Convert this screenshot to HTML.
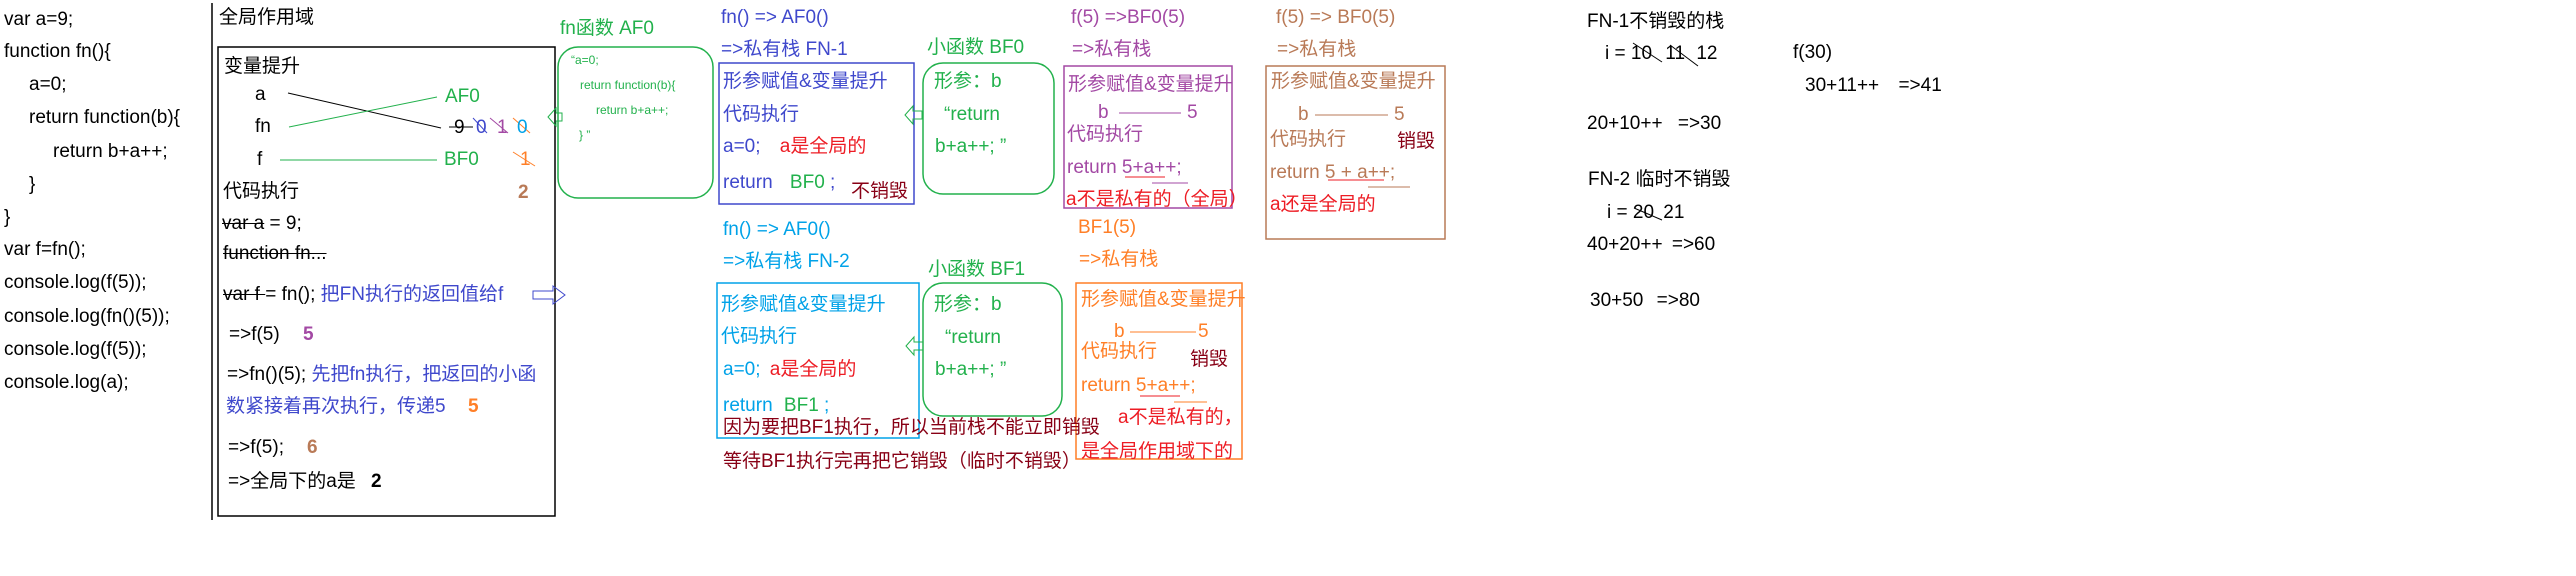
<!DOCTYPE html>
<html><head><meta charset="utf-8"><style>
body{margin:0;width:2576px;height:576px;background:#fff;position:relative;overflow:hidden;font-family:"Liberation Sans","Noto Sans CJK SC",sans-serif;font-size:19px;color:#000}
.t{position:absolute;line-height:24px;white-space:nowrap}
.s{text-decoration:line-through}
.b{font-weight:bold}
.sm{font-size:12px;line-height:16px}
.bl{color:#3f48cc}.gr{color:#22b14c}.pu{color:#a349a4}.or{color:#ff7f27}.br{color:#b97a57}.rd{color:#ed1c24}.dr{color:#880015}.cy{color:#00a2e8}
svg{position:absolute;left:0;top:0}
</style></head><body>
<svg width="2576" height="576" fill="none">
<line x1="212" y1="3" x2="212" y2="520" stroke="#000" stroke-width="1.5"/>
<rect x="218" y="47" width="337" height="469" stroke="#000" stroke-width="1.5"/>
<line x1="288" y1="93" x2="441" y2="128" stroke="#000"/>
<line x1="289" y1="127" x2="437" y2="97" stroke="#22b14c"/>
<line x1="280" y1="160" x2="437" y2="160" stroke="#22b14c"/>
<line x1="449" y1="127" x2="473" y2="127" stroke="#000"/>
<line x1="473" y1="118" x2="487" y2="133" stroke="#3f48cc"/>
<line x1="490" y1="118" x2="508" y2="133" stroke="#a349a4"/>
<line x1="513" y1="118" x2="530" y2="133" stroke="#ff7f27"/>
<line x1="513" y1="152" x2="535" y2="166" stroke="#ff7f27"/>
<rect x="558" y="47" width="155" height="151" rx="20" stroke="#22b14c" stroke-width="1.5"/>
<polygon points="548,117 556,108 556,113 562,113 562,121 556,121 556,126" stroke="#22b14c"/>
<polygon points="533,291 553,291 553,286 565,295 553,304 553,299 533,299" stroke="#3f48cc"/>
<rect x="719" y="63" width="195" height="141" stroke="#3f48cc" stroke-width="1.5"/>
<rect x="923" y="63" width="131" height="131" rx="20" stroke="#22b14c" stroke-width="1.5"/>
<polygon points="905,115 913,106 913,111 922,111 922,119 913,119 913,124" stroke="#22b14c"/>
<rect x="1064" y="66" width="168" height="142" stroke="#a349a4" stroke-width="1.5"/>
<line x1="1119" y1="113" x2="1181" y2="113" stroke="#a349a4"/>
<line x1="1125" y1="177" x2="1165" y2="177" stroke="#ed1c24"/>
<line x1="1152" y1="183" x2="1188" y2="183" stroke="#a349a4"/>
<rect x="717" y="283" width="202" height="155" stroke="#00a2e8" stroke-width="1.5"/>
<rect x="923" y="283" width="139" height="133" rx="20" stroke="#22b14c" stroke-width="1.5"/>
<polygon points="906,346 914,337 914,342 923,342 923,350 914,350 914,355" stroke="#22b14c"/>
<rect x="1076" y="283" width="166" height="176" stroke="#ff7f27" stroke-width="1.5"/>
<line x1="1130" y1="332" x2="1196" y2="332" stroke="#ff7f27"/>
<line x1="1140" y1="396" x2="1180" y2="396" stroke="#ed1c24"/>
<line x1="1174" y1="402" x2="1207" y2="402" stroke="#ff7f27"/>
<rect x="1266" y="66" width="179" height="173" stroke="#b97a57" stroke-width="1.5"/>
<line x1="1315" y1="115" x2="1388" y2="115" stroke="#b97a57"/>
<line x1="1328" y1="180" x2="1384" y2="180" stroke="#ed1c24"/>
<line x1="1368" y1="187" x2="1410" y2="187" stroke="#b97a57"/>
<line x1="1633" y1="43" x2="1662" y2="62" stroke="#000"/>
<line x1="1670" y1="45" x2="1698" y2="66" stroke="#000"/>
<line x1="1634" y1="208" x2="1662" y2="220" stroke="#000"/>
</svg>

<div class="t" style="left:4px;top:8px">var a=9;</div>
<div class="t" style="left:4px;top:40px">function fn(){</div>
<div class="t" style="left:29px;top:73px">a=0;</div>
<div class="t" style="left:29px;top:106px">return function(b){</div>
<div class="t" style="left:53px;top:140px">return b+a++;</div>
<div class="t" style="left:29px;top:173px">}</div>
<div class="t" style="left:4px;top:206px">}</div>
<div class="t" style="left:4px;top:238px">var f=fn();</div>
<div class="t" style="left:4px;top:271px">console.log(f(5));</div>
<div class="t" style="left:4px;top:305px">console.log(fn()(5));</div>
<div class="t" style="left:4px;top:338px">console.log(f(5));</div>
<div class="t" style="left:4px;top:371px">console.log(a);</div>

<div class="t" style="left:219px;top:6px">全局作用域</div>
<div class="t" style="left:224px;top:55px">变量提升</div>
<div class="t" style="left:255px;top:83px">a</div>
<div class="t" style="left:255px;top:115px">fn</div>
<div class="t" style="left:257px;top:148px">f</div>
<div class="t gr" style="left:445px;top:85px">AF0</div>
<div class="t gr" style="left:444px;top:148px">BF0</div>
<div class="t" style="left:454px;top:116px">9</div>
<div class="t bl" style="left:476px;top:116px">0</div>
<div class="t pu" style="left:497px;top:116px">1</div>
<div class="t cy" style="left:517px;top:116px">0</div>
<div class="t or" style="left:520px;top:148px">1</div>
<div class="t b br" style="left:518px;top:181px">2</div>
<div class="t" style="left:223px;top:180px">代码执行</div>
<div class="t" style="left:222px;top:212px"><span class="s">var a</span> = 9;</div>
<div class="t s" style="left:223px;top:242px">function fn...</div>
<div class="t" style="left:223px;top:283px"><span class="s">var f </span>= fn(); <span class="bl">把FN执行的返回值给f</span></div>
<div class="t" style="left:229px;top:323px">=&gt;f(5) <span class="b pu" style="margin-left:18px">5</span></div>
<div class="t" style="left:227px;top:363px">=&gt;fn()(5); <span class="bl">先把fn执行，把返回的小函</span></div>
<div class="t bl" style="left:226px;top:395px">数紧接着再次执行，传递5</div>
<div class="t b or" style="left:468px;top:395px">5</div>
<div class="t" style="left:228px;top:436px">=&gt;f(5);</div>
<div class="t b br" style="left:307px;top:436px">6</div>
<div class="t" style="left:228px;top:470px">=&gt;全局下的a是 <span class="b" style="margin-left:10px">2</span></div>

<div class="t gr" style="left:560px;top:17px">fn函数 AF0</div>
<div class="t gr sm" style="left:571px;top:52px">“a=0;</div>
<div class="t gr sm" style="left:580px;top:77px">return function(b){</div>
<div class="t gr sm" style="left:596px;top:102px">return b+a++;</div>
<div class="t gr sm" style="left:579px;top:127px">} ”</div>

<div class="t bl" style="left:721px;top:6px">fn() =&gt; AF0()</div>
<div class="t bl" style="left:721px;top:38px">=&gt;私有栈  FN-1</div>
<div class="t bl" style="left:723px;top:70px">形参赋值&amp;变量提升</div>
<div class="t bl" style="left:723px;top:103px">代码执行</div>
<div class="t bl" style="left:723px;top:135px">a=0; <span class="rd" style="margin-left:14px">a是全局的</span></div>
<div class="t bl" style="left:723px;top:171px">return <span class="gr" style="margin-left:12px">BF0</span> ;</div>
<div class="t dr" style="left:851px;top:180px">不销毁</div>
<div class="t gr" style="left:927px;top:36px">小函数 BF0</div>
<div class="t gr" style="left:934px;top:70px">形参：b</div>
<div class="t gr" style="left:944px;top:103px">“return</div>
<div class="t gr" style="left:935px;top:135px">b+a++; ”</div>

<div class="t pu" style="left:1071px;top:6px">f(5) =&gt;BF0(5)</div>
<div class="t pu" style="left:1072px;top:38px">=&gt;私有栈</div>
<div class="t pu" style="left:1068px;top:73px">形参赋值&amp;变量提升</div>
<div class="t pu" style="left:1098px;top:101px">b</div>
<div class="t pu" style="left:1187px;top:101px">5</div>
<div class="t pu" style="left:1067px;top:123px">代码执行</div>
<div class="t pu" style="left:1067px;top:156px">return 5+a++;</div>
<div class="t rd" style="left:1066px;top:188px">a不是私有的（全局）</div>

<div class="t or" style="left:1078px;top:216px">BF1(5)</div>
<div class="t or" style="left:1079px;top:248px">=&gt;私有栈</div>
<div class="t or" style="left:1081px;top:288px">形参赋值&amp;变量提升</div>
<div class="t or" style="left:1114px;top:320px">b</div>
<div class="t or" style="left:1198px;top:320px">5</div>
<div class="t or" style="left:1081px;top:340px">代码执行</div>
<div class="t dr" style="left:1190px;top:348px">销毁</div>
<div class="t or" style="left:1081px;top:374px">return 5+a++;</div>
<div class="t rd" style="left:1118px;top:406px">a不是私有的，</div>
<div class="t rd" style="left:1081px;top:440px">是全局作用域下的</div>

<div class="t cy" style="left:723px;top:218px">fn() =&gt; AF0()</div>
<div class="t cy" style="left:723px;top:250px">=&gt;私有栈 FN-2</div>
<div class="t cy" style="left:721px;top:293px">形参赋值&amp;变量提升</div>
<div class="t cy" style="left:721px;top:325px">代码执行</div>
<div class="t cy" style="left:723px;top:358px">a=0; <span class="rd" style="margin-left:4px">a是全局的</span></div>
<div class="t cy" style="left:723px;top:394px">return <span class="gr" style="margin-left:6px">BF1</span> ;</div>
<div class="t dr" style="left:723px;top:416px">因为要把BF1执行，所以当前栈不能立即销毁</div>
<div class="t dr" style="left:723px;top:450px">等待BF1执行完再把它销毁（临时不销毁）</div>
<div class="t gr" style="left:928px;top:258px">小函数 BF1</div>
<div class="t gr" style="left:934px;top:293px">形参：b</div>
<div class="t gr" style="left:945px;top:326px">“return</div>
<div class="t gr" style="left:935px;top:358px">b+a++; ”</div>

<div class="t br" style="left:1276px;top:6px">f(5) =&gt; BF0(5)</div>
<div class="t br" style="left:1277px;top:38px">=&gt;私有栈</div>
<div class="t br" style="left:1271px;top:70px">形参赋值&amp;变量提升</div>
<div class="t br" style="left:1298px;top:103px">b</div>
<div class="t br" style="left:1394px;top:103px">5</div>
<div class="t br" style="left:1270px;top:128px">代码执行</div>
<div class="t dr" style="left:1397px;top:130px">销毁</div>
<div class="t br" style="left:1270px;top:161px">return 5 + a++;</div>
<div class="t rd" style="left:1270px;top:193px">a还是全局的</div>

<div class="t" style="left:1587px;top:10px">FN-1不销毁的栈</div>
<div class="t" style="left:1605px;top:42px">i = 10 <span style="margin-left:8px">11</span> <span style="margin-left:6px">12</span></div>
<div class="t" style="left:1793px;top:41px">f(30)</div>
<div class="t" style="left:1805px;top:74px">30+11++ <span style="margin-left:14px">=&gt;41</span></div>
<div class="t" style="left:1587px;top:112px">20+10++ <span style="margin-left:10px">=&gt;30</span></div>
<div class="t" style="left:1588px;top:168px">FN-2 临时不销毁</div>
<div class="t" style="left:1607px;top:201px">i = 20 <span style="margin-left:4px">21</span></div>
<div class="t" style="left:1587px;top:233px">40+20++ <span style="margin-left:4px">=&gt;60</span></div>
<div class="t" style="left:1590px;top:289px">30+50 <span style="margin-left:8px">=&gt;80</span></div>
</body></html>
